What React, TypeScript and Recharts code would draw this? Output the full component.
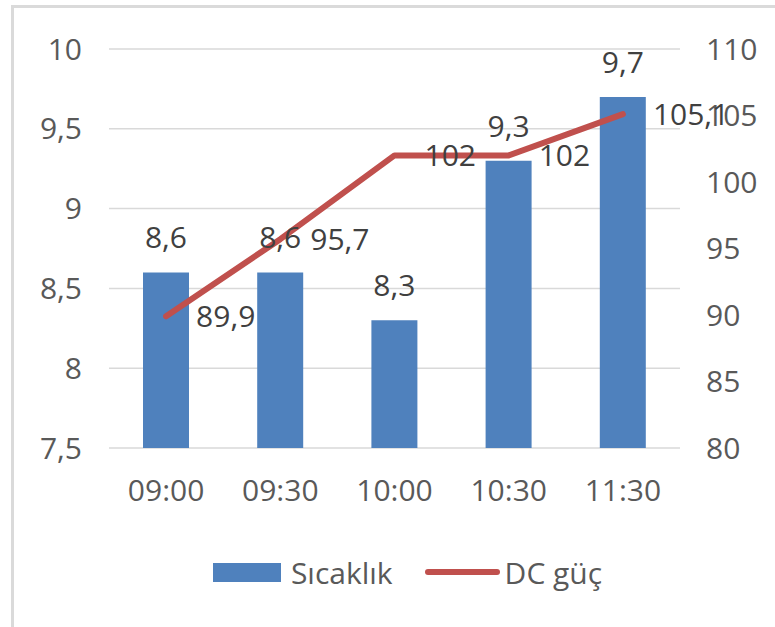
import React from 'react';
import { ComposedChart, Bar, Line, XAxis, YAxis, CartesianGrid, Legend, LabelList } from 'recharts';

const categories = ['09:00', '09:30', '10:00', '10:30', '11:30'];
const sicaklik = [8.6, 8.6, 8.3, 9.3, 9.7];
const dcGuc = [89.9, 95.7, 102, 102, 105.1];
const leftTicks = [7.5, 8, 8.5, 9, 9.5, 10];
const rightTicks = [80, 85, 90, 95, 100, 105, 110];
const seriesNames = ['Sıcaklık', 'DC güç'];

const data = categories.map((c, i) => ({ name: c, s: sicaklik[i], d: dcGuc[i] }));

const FONT = "'Open Sans', 'Noto Sans', sans-serif";
const BLUE = '#4F81BD';
const RED = '#C0504D';
const fmt = (v: any) => String(v).replace('.', ',');

const LegendContent = () => (
  <div style={{ height: 40, display: 'flex', alignItems: 'center', justifyContent: 'center', paddingLeft: 40, fontFamily: FONT, fontSize: 30, color: '#595959' }}>
    <div style={{ width: 68, height: 19, background: BLUE, marginRight: 10 }} />
    <span style={{ marginRight: 32 }}>{seriesNames[0]}</span>
    <div style={{ width: 75, height: 6, background: RED, borderRadius: 3, marginRight: 5 }} />
    <span>{seriesNames[1]}</span>
  </div>
);

export default function App() {
  return (
    <div style={{ position: 'absolute', left: 0, top: 0, width: 775, height: 627, background: '#fff', overflow: 'hidden' }}>
      <div style={{ position: 'absolute', left: 11, top: 5, right: 0, bottom: 0, borderTop: '3px solid #dadada', borderLeft: '3px solid #dadada' }} />
      <div style={{ position: 'absolute', left: 0, top: 0 }}>
        <ComposedChart
          width={775}
          height={627}
          data={data}
          margin={{ top: 49, right: 0, bottom: 79, left: 0 }}
          style={{ fontFamily: FONT }}
        >
          <CartesianGrid yAxisId="left" vertical={false} stroke="#d9d9d9" strokeWidth={1.5} />
          <XAxis
            dataKey="name"
            axisLine={false}
            tickLine={false}
            height={60}
            tickMargin={26}
            tick={{ fontSize: 30, fill: '#595959', fontFamily: FONT }}
            interval={0}
          />
          <YAxis
            yAxisId="left"
            orientation="left"
            domain={[7.5, 10]}
            ticks={leftTicks}
            width={109}
            axisLine={false}
            tickLine={false}
            tickMargin={21}
            tickFormatter={fmt}
            tick={{ fontSize: 30, fill: '#595959', fontFamily: FONT }}
            allowDataOverflow
          />
          <YAxis
            yAxisId="right"
            orientation="right"
            domain={[80, 110]}
            ticks={rightTicks}
            width={95}
            axisLine={false}
            tickLine={false}
            tickMargin={20}
            tickFormatter={fmt}
            tick={{ fontSize: 30, fill: '#595959', fontFamily: FONT, textAnchor: 'start' }}
            allowDataOverflow
          />
          <Legend verticalAlign="bottom" content={LegendContent} wrapperStyle={{ top: 552, left: 0, width: 775 }} />
          <Bar yAxisId="left" dataKey="s" name={seriesNames[0]} fill={BLUE} barSize={46} isAnimationActive={false}>
            <LabelList dataKey="s" position="top" offset={24} formatter={fmt} style={{ fontSize: 30, fill: '#404040', fontFamily: FONT }} />
          </Bar>
          <Line
            yAxisId="right"
            dataKey="d"
            name={seriesNames[1]}
            stroke={RED}
            strokeWidth={6}
            strokeLinecap="round"
            strokeLinejoin="round"
            dot={false}
            isAnimationActive={false}
          >
            <LabelList dataKey="d" position="right" offset={30} formatter={fmt} style={{ fontSize: 30, fill: '#404040', fontFamily: FONT }} />
          </Line>
        </ComposedChart>
      </div>
    </div>
  );
}
